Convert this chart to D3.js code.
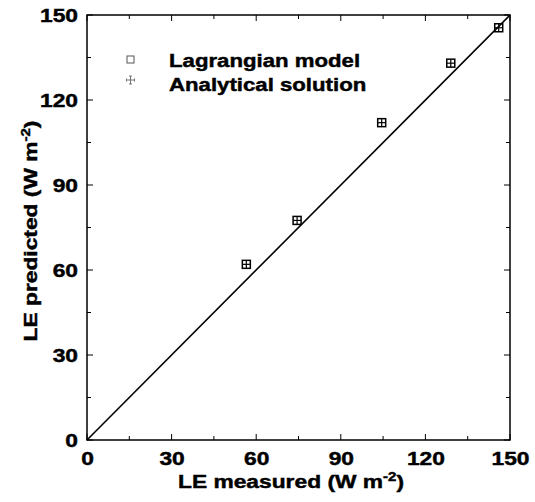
<!DOCTYPE html>
<html><head><meta charset="utf-8">
<script src="https://cdn.jsdelivr.net/npm/d3@7"></script>
<style>body{margin:0;background:#fff}svg{display:block}text{font-family:"Liberation Sans",Arial,sans-serif;font-weight:bold;fill:#000;stroke:#000;stroke-width:0.45px}</style>
</head><body><svg id="c" width="535" height="502"></svg>
<script>
const measured = [56.5, 74.5, 104.5, 129, 146];
const predicted = [62, 77.5, 112, 133, 145.5];
const majorTicks = [0, 30, 60, 90, 120, 150];
const minorTicks = [15, 45, 75, 105, 135];
const legendLabels = ["Lagrangian model", "Analytical solution"];

const svg = d3.select("#c");
const L = 87, R = 510, T = 15, B = 440;
const SX = 1.2;
const x = d3.scaleLinear().domain([0,150]).range([L,R]);
const y = d3.scaleLinear().domain([0,150]).range([B,T]);

svg.append("rect").attr("x",L).attr("y",T).attr("width",R-L).attr("height",B-T)
  .attr("fill","none").attr("stroke","#000").attr("stroke-width",1.5);

function ticks(vals, len){
  vals.forEach(v=>{
    svg.append("line").attr("x1",x(v)).attr("x2",x(v)).attr("y1",B).attr("y2",B-len).attr("stroke","#000");
    svg.append("line").attr("x1",x(v)).attr("x2",x(v)).attr("y1",T).attr("y2",T+len).attr("stroke","#000");
    svg.append("line").attr("y1",y(v)).attr("y2",y(v)).attr("x1",L).attr("x2",L+len).attr("stroke","#000");
    svg.append("line").attr("y1",y(v)).attr("y2",y(v)).attr("x1",R).attr("x2",R-len).attr("stroke","#000");
  });
}
ticks(majorTicks, 6);
ticks(minorTicks, 4);

const xAxis = svg.append("g").attr("transform",`translate(0,${B})`)
  .call(d3.axisBottom(x).tickValues(majorTicks).tickSize(0).tickPadding(12));
const yAxis = svg.append("g").attr("transform",`translate(${L},0)`)
  .call(d3.axisLeft(y).tickValues(majorTicks).tickSize(0).tickPadding(7.5));
[xAxis,yAxis].forEach(g=>{
  g.select(".domain").remove();
  g.selectAll("text").attr("font-size",19).attr("font-family","Liberation Sans").attr("font-weight","bold")
    .attr("fill","#000").attr("transform",`scale(${SX},1)`);
});

svg.append("line").attr("x1",x(0)).attr("y1",y(0)).attr("x2",x(150)).attr("y2",y(150))
  .attr("stroke","#000").attr("stroke-width",1.6);

const pts = measured.map((m,i)=>[m,predicted[i]]);
const g = svg.append("g");
pts.forEach(([m,p])=>{
  const cx=x(m), cy=y(p), h=4;
  g.append("rect").attr("x",cx-h).attr("y",cy-h).attr("width",2*h).attr("height",2*h)
    .attr("fill","none").attr("stroke","#000").attr("stroke-width",1.5);
  g.append("line").attr("x1",cx-h).attr("x2",cx+h).attr("y1",cy).attr("y2",cy).attr("stroke","#000").attr("stroke-width",1.2);
  g.append("line").attr("x1",cx).attr("x2",cx).attr("y1",cy-h).attr("y2",cy+h).attr("stroke","#000").attr("stroke-width",1.2);
});

svg.append("rect").attr("x",127).attr("y",56).attr("width",7).attr("height",7)
  .attr("fill","none").attr("stroke","#555").attr("stroke-width",1);
const lx=130.5, ly=80;
[[lx-4,ly,lx+4,ly],[lx,ly-4,lx,ly+4],[lx-4,ly-1.5,lx-4,ly+1.5],[lx+4,ly-1.5,lx+4,ly+1.5],[lx-1.5,ly-4,lx+1.5,ly-4],[lx-1.5,ly+4,lx+1.5,ly+4]]
  .forEach(d=>svg.append("line").attr("x1",d[0]).attr("y1",d[1]).attr("x2",d[2]).attr("y2",d[3]).attr("stroke","#555").attr("stroke-width",0.8));

function label(tx, ty, rot, anchor, size, parts){
  const gg = svg.append("g").attr("transform",`translate(${tx},${ty}) rotate(${rot}) scale(${SX},1)`);
  const t = gg.append("text").attr("text-anchor",anchor).attr("font-size",size);
  parts(t);
}
label(169,67,0,"start",18.5,t=>t.text(legendLabels[0]));
label(169,91,0,"start",18.5,t=>t.text(legendLabels[1]));

function title(t, s){
  t.append("tspan").text(s);
  t.append("tspan").attr("font-size",12.5).attr("dy",-7).text("-2");
  t.append("tspan").attr("dy",7).text(")");
}
label(291,488,0,"middle",19,t=>title(t,"LE measured (W m"));
label(37,231,-90,"middle",19,t=>title(t,"LE predicted (W m"));
</script></body></html>
